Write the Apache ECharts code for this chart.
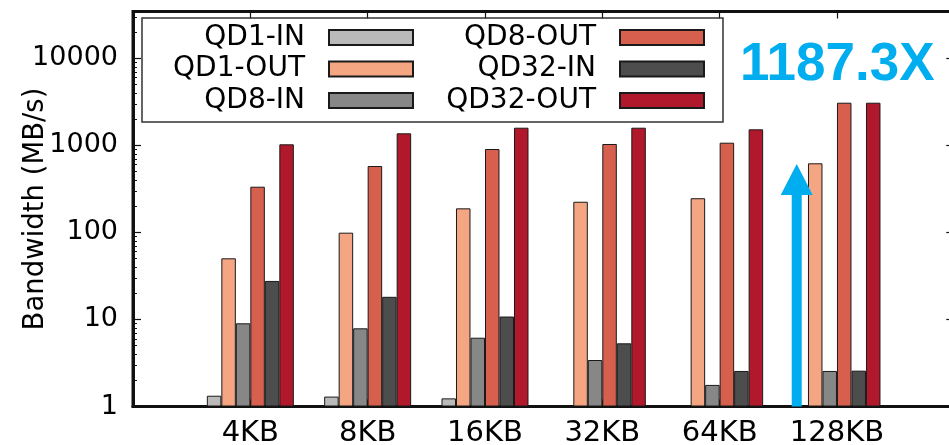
<!DOCTYPE html>
<html><head><meta charset="utf-8">
<script src="https://cdn.jsdelivr.net/npm/echarts@6/dist/echarts.min.js"></script>
<style>html,body{margin:0;padding:0;background:#fff}#c{width:949px;height:445px}</style>
</head><body><div id="c"></div>
<script>
// ---- data ----
const sizes = ['4KB', '8KB', '16KB', '32KB', '64KB', '128KB'];
const seriesNames = ['QD1-IN', 'QD1-OUT', 'QD8-IN', 'QD8-OUT', 'QD32-IN', 'QD32-OUT'];
const qd1In   = [1.33, 1.30, 1.24, null, null, null];
const qd1Out  = [50.4, 99.3, 189, 225, 247, 622];
const qd8In   = [9.03, 7.91, 6.17, 3.42, 1.77, 2.56];
const qd8Out  = [335, 579, 908, 1037, 1073, 3090];
const qd32In  = [27.7, 18.2, 10.8, 5.32, 2.56, 2.58];
const qd32Out = [1028, 1375, 1595, 1595, 1528, 3090];
const majorTicks = [1, 10, 100, 1000, 10000];
const minorTicks = [2,3,4,5,6,7,8,9, 20,30,40,50,60,70,80,90, 200,300,400,500,600,700,800,900,
                    2000,3000,4000,5000,6000,7000,8000,9000, 20000,30000];
const arrowTip = 611;          // value reached by the blue arrow at 128KB
const annotation = '1187.3X';

// ---- styling ----
const colors = ['#bababa', '#f4a582', '#878787', '#d6604d', '#4d4d4d', '#b2182b'];
const BLUE = '#00aeef';
const BAR_W = 14.5;
const FONT = 'DejaVu Sans';
const Y_MAX = 34500;

const cats = [' '].concat(sizes, ['  ']);
const pad = arr => [null].concat(arr, [null]);
const allValues = [qd1In, qd1Out, qd8In, qd8Out, qd32In, qd32Out];

const chart = echarts.init(document.getElementById('c'), null, {renderer: 'canvas'});

const barSeries = seriesNames.map((n, i) => ({
  name: n, type: 'bar', xAxisIndex: 0, yAxisIndex: 0,
  data: pad(allValues[i]),
  barWidth: BAR_W, barGap: '0%',
  itemStyle: {color: colors[i], borderColor: '#1a1a1a', borderWidth: 1},
  emphasis: {disabled: true}, silent: true, z: 2
}));

const arrowIdx = sizes.indexOf('128KB') + 1;
const plainNum = v => String(Math.round(v));

const option = {
  animation: false,
  backgroundColor: '#fff',
  grid: {left: 133, top: 11.5, bottom: 38.5, width: 821.3, show: true,
         borderColor: '#111', borderWidth: 3, containLabel: false, outerBoundsMode: 'none'},
  xAxis: [
    {type: 'category', data: cats, boundaryGap: false, position: 'bottom',
     axisLine: {show: true, lineStyle: {color: '#111', width: 3}},
     axisTick: {show: true, inside: true, length: 7, lineStyle: {color: '#111'}},
     axisLabel: {show: true, interval: 0, color: '#000', fontFamily: FONT, fontSize: 29, margin: 12},
     splitLine: {show: false}},
    {type: 'category', data: cats, boundaryGap: false, position: 'top',
     axisLine: {show: false},
     axisTick: {show: true, inside: true, length: 7, lineStyle: {color: '#111', width: 1.2}},
     axisLabel: {show: false}, splitLine: {show: false}}
  ],
  yAxis: [
    {type: 'log', logBase: 10, min: 1, max: Y_MAX, position: 'left',
     name: 'Bandwidth (MB/s)', nameLocation: 'middle', nameGap: 83, nameMoveOverlap: false,
     nameTextStyle: {fontFamily: FONT, fontSize: 27.5, color: '#000'},
     axisLine: {show: true, lineStyle: {color: '#111', width: 3}},
     axisTick: {show: true, inside: true, length: 8, customValues: majorTicks, lineStyle: {color: '#111', width: 1.2}},
     axisLabel: {show: true, customValues: majorTicks, formatter: plainNum, color: '#000',
                 fontFamily: FONT, fontSize: 27, margin: 15},
     splitLine: {show: false}},
    {type: 'log', logBase: 10, min: 1, max: Y_MAX, position: 'left',
     axisLine: {show: false},
     axisTick: {show: true, inside: true, length: 4, customValues: minorTicks, lineStyle: {color: '#111', width: 1}},
     axisLabel: {show: false}, splitLine: {show: false}},
    {type: 'log', logBase: 10, min: 1, max: Y_MAX, position: 'right',
     axisLine: {show: false},
     axisTick: {show: true, inside: true, length: 8, customValues: majorTicks, lineStyle: {color: '#111', width: 1.2}},
     axisLabel: {show: false}, splitLine: {show: false}}
  ],
  legend: {
    data: seriesNames.map(n => ({name: n, icon: 'rect'})), orient: 'vertical', align: 'right',
    left: 125, top: 22.75, height: 95, padding: 0, itemGap: 2,
    itemWidth: 84, itemHeight: 15, selectedMode: false,
    textStyle: {fontFamily: FONT, fontSize: 28, color: '#000', width: 180, align: 'right',
                lineHeight: 29.5, padding: [0, 19, 0, 0]}
  },
  graphic: [
    {type: 'rect', z: 1, silent: true,
     shape: {x: 142, y: 18, width: 581, height: 104},
     style: {fill: 'none', stroke: '#333', lineWidth: 1.5}},
    {type: 'text', z: 10, silent: true, x: 740, y: 65,
     style: {text: annotation, fill: BLUE, font: 'bold 53px "Liberation Sans", Arial, sans-serif',
             verticalAlign: 'middle', align: 'left'}}
  ],
  series: barSeries.concat([{
    type: 'custom', name: 'arrow', xAxisIndex: 0, yAxisIndex: 0, z: 5, silent: true,
    data: [[arrowIdx, arrowTip]],
    renderItem: function (params, api) {
      const tip = api.coord([api.value(0), api.value(1)]);
      const base = api.coord([api.value(0), 1]);
      const x = tip[0] - 2.5 * BAR_W - 4;
      const headH = 31, headW = 32, shaftW = 10;
      return {type: 'group', children: [
        {type: 'rect', shape: {x: x - shaftW / 2, y: tip[1] + headH - 1, width: shaftW,
                               height: base[1] - (tip[1] + headH - 1)}, style: {fill: BLUE}},
        {type: 'polygon', shape: {points: [[x, tip[1]], [x - headW / 2, tip[1] + headH], [x + headW / 2, tip[1] + headH]]},
         style: {fill: BLUE}}
      ]};
    }
  }])
};
chart.setOption(option);
</script></body></html>
